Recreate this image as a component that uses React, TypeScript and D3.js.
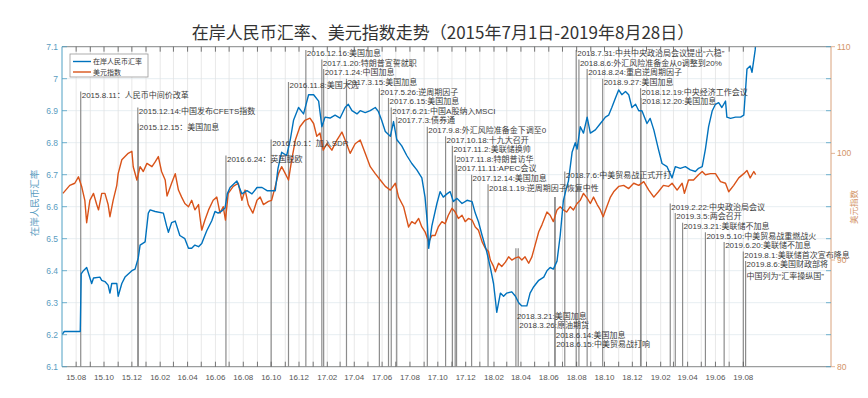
import * as d3 from "d3"

// 在岸人民币汇率 (left axis)
const cnyDates = [
  "2015-07-01", "2015-07-06", "2015-08-10", "2015-08-12", "2015-08-17", "2015-08-24", "2015-09-04", "2015-09-08",
  "2015-09-22", "2015-09-26", "2015-10-03", "2015-10-10", "2015-10-14", "2015-10-18", "2015-10-29", "2015-11-01",
  "2015-11-09", "2015-11-16", "2015-12-01", "2015-12-08", "2015-12-15", "2015-12-19", "2015-12-30", "2016-01-06",
  "2016-01-10", "2016-01-21", "2016-02-08", "2016-02-15", "2016-02-19", "2016-02-26", "2016-03-05", "2016-03-15",
  "2016-03-26", "2016-04-03", "2016-04-10", "2016-04-17", "2016-04-25", "2016-05-02", "2016-05-06", "2016-05-13",
  "2016-05-24", "2016-05-31", "2016-06-07", "2016-06-15", "2016-06-22", "2016-06-27", "2016-07-03", "2016-07-18",
  "2016-07-29", "2016-08-09", "2016-08-20", "2016-08-31", "2016-09-11", "2016-09-22", "2016-10-10", "2016-10-16",
  "2016-10-24", "2016-11-04", "2016-11-12", "2016-11-19", "2016-11-30", "2016-12-11", "2016-12-22", "2017-01-02",
  "2017-01-13", "2017-01-20", "2017-01-27", "2017-02-07", "2017-02-18", "2017-03-01", "2017-03-12", "2017-03-19",
  "2017-03-27", "2017-04-07", "2017-04-14", "2017-04-25", "2017-05-06", "2017-05-17", "2017-05-24", "2017-05-31",
  "2017-06-08", "2017-06-19", "2017-06-26", "2017-07-03", "2017-07-14", "2017-07-25", "2017-08-05", "2017-08-16",
  "2017-08-27", "2017-09-03", "2017-09-08", "2017-09-11", "2017-09-18", "2017-09-29", "2017-10-06", "2017-10-13",
  "2017-10-21", "2017-10-28", "2017-11-04", "2017-11-12", "2017-11-23", "2017-12-04", "2017-12-15", "2017-12-22",
  "2017-12-29", "2018-01-06", "2018-01-16", "2018-01-24", "2018-01-31", "2018-02-04", "2018-02-07", "2018-02-15",
  "2018-02-22", "2018-03-01", "2018-03-12", "2018-03-20", "2018-03-27", "2018-04-03", "2018-04-14", "2018-04-21",
  "2018-04-29", "2018-05-10", "2018-05-21", "2018-05-28", "2018-06-04", "2018-06-11", "2018-06-19", "2018-06-26",
  "2018-07-03", "2018-07-10", "2018-07-14", "2018-07-22", "2018-07-29", "2018-08-02", "2018-08-09", "2018-08-16",
  "2018-08-24", "2018-08-31", "2018-09-11", "2018-09-22", "2018-10-03", "2018-10-10", "2018-10-17", "2018-10-25",
  "2018-11-01", "2018-11-08", "2018-11-16", "2018-11-23", "2018-11-30", "2018-12-08", "2018-12-15", "2018-12-22",
  "2019-01-02", "2019-01-09", "2019-01-17", "2019-01-27", "2019-02-04", "2019-02-15", "2019-02-26", "2019-03-05",
  "2019-03-16", "2019-03-27", "2019-04-07", "2019-04-18", "2019-04-25", "2019-05-03", "2019-05-10", "2019-05-17",
  "2019-05-25", "2019-06-01", "2019-06-08", "2019-06-15", "2019-06-23", "2019-06-26", "2019-07-04", "2019-07-15",
  "2019-07-26", "2019-08-02", "2019-08-09", "2019-08-16", "2019-08-20", "2019-08-27", "2019-08-28",
]
const cnyRates = [
  6.2, 6.21, 6.21, 6.39, 6.4, 6.41, 6.36, 6.377,
  6.38, 6.37, 6.366, 6.355, 6.33, 6.36, 6.36, 6.32,
  6.36, 6.38, 6.4, 6.405, 6.44, 6.48, 6.49, 6.58,
  6.59, 6.585, 6.58, 6.54, 6.52, 6.55, 6.555, 6.51,
  6.5, 6.47, 6.47, 6.48, 6.475, 6.485, 6.5, 6.525,
  6.556, 6.585, 6.58, 6.587, 6.596, 6.64, 6.66, 6.68,
  6.64, 6.65, 6.64, 6.66, 6.66, 6.65, 6.65, 6.72,
  6.77, 6.76, 6.81, 6.87, 6.91, 6.89, 6.95, 6.95,
  6.93, 6.85, 6.88, 6.877, 6.886, 6.877, 6.91, 6.92,
  6.9, 6.89, 6.9, 6.894, 6.9, 6.91, 6.897, 6.87,
  6.835, 6.82, 6.866, 6.81, 6.79, 6.76, 6.735, 6.715,
  6.69, 6.63, 6.55, 6.47, 6.54, 6.61, 6.647, 6.63,
  6.64, 6.647, 6.616, 6.626, 6.61, 6.62, 6.616, 6.58,
  6.553, 6.51, 6.46, 6.41, 6.36, 6.31, 6.27, 6.33,
  6.32, 6.33, 6.334, 6.32, 6.3, 6.29, 6.29, 6.33,
  6.35, 6.37, 6.38, 6.4, 6.41, 6.405, 6.43, 6.51,
  6.62, 6.66, 6.68, 6.77, 6.8, 6.78, 6.85, 6.83,
  6.88, 6.83, 6.84, 6.86, 6.88, 6.886, 6.91, 6.94,
  6.965, 6.95, 6.96, 6.95, 6.91, 6.92, 6.9, 6.9,
  6.86, 6.876, 6.84, 6.78, 6.735, 6.725, 6.69, 6.725,
  6.72, 6.725, 6.715, 6.71, 6.72, 6.725, 6.78, 6.85,
  6.9, 6.92, 6.925, 6.91, 6.93, 6.88, 6.876, 6.88,
  6.88, 6.886, 7.03, 7.04, 7.02, 7.09, 7.11,
]

// 美元指数 (right axis)
const dxyDates = [
  "2015-07-03", "2015-07-18", "2015-07-29", "2015-08-06", "2015-08-13", "2015-08-20", "2015-08-24", "2015-08-31",
  "2015-09-08", "2015-09-15", "2015-09-19", "2015-09-26", "2015-10-03", "2015-10-10", "2015-10-14", "2015-10-21",
  "2015-10-29", "2015-11-01", "2015-11-09", "2015-11-16", "2015-11-23", "2015-12-01", "2015-12-04", "2015-12-12",
  "2015-12-19", "2015-12-26", "2016-01-03", "2016-01-14", "2016-01-21", "2016-01-28", "2016-02-04", "2016-02-12",
  "2016-02-16", "2016-02-26", "2016-03-05", "2016-03-12", "2016-03-19", "2016-03-26", "2016-04-03", "2016-04-10",
  "2016-04-17", "2016-04-25", "2016-04-28", "2016-05-02", "2016-05-09", "2016-05-17", "2016-05-27", "2016-06-04",
  "2016-06-11", "2016-06-18", "2016-06-23", "2016-06-29", "2016-07-10", "2016-07-21", "2016-07-29", "2016-08-05",
  "2016-08-12", "2016-08-22", "2016-08-31", "2016-09-07", "2016-09-14", "2016-09-25", "2016-10-02", "2016-10-10",
  "2016-10-17", "2016-10-24", "2016-11-01", "2016-11-08", "2016-11-15", "2016-11-23", "2016-12-03", "2016-12-14",
  "2016-12-25", "2017-01-02", "2017-01-09", "2017-01-16", "2017-01-23", "2017-01-31", "2017-02-11", "2017-02-22",
  "2017-03-05", "2017-03-12", "2017-03-23", "2017-04-03", "2017-04-14", "2017-04-25", "2017-05-06", "2017-05-17",
  "2017-05-28", "2017-06-08", "2017-06-19", "2017-06-30", "2017-07-07", "2017-07-18", "2017-07-29", "2017-08-05",
  "2017-08-12", "2017-08-20", "2017-08-27", "2017-09-03", "2017-09-11", "2017-09-18", "2017-09-25", "2017-10-02",
  "2017-10-10", "2017-10-17", "2017-10-24", "2017-11-01", "2017-11-08", "2017-11-15", "2017-11-23", "2017-11-30",
  "2017-12-07", "2017-12-15", "2017-12-22", "2017-12-29", "2018-01-06", "2018-01-13", "2018-01-20", "2018-01-24",
  "2018-01-31", "2018-02-04", "2018-02-11", "2018-02-18", "2018-02-26", "2018-03-05", "2018-03-12", "2018-03-20",
  "2018-03-27", "2018-04-03", "2018-04-10", "2018-04-18", "2018-04-25", "2018-05-02", "2018-05-10", "2018-05-17",
  "2018-05-28", "2018-06-04", "2018-06-11", "2018-06-19", "2018-06-26", "2018-07-03", "2018-07-10", "2018-07-18",
  "2018-07-25", "2018-08-02", "2018-08-09", "2018-08-16", "2018-08-24", "2018-08-31", "2018-09-07", "2018-09-15",
  "2018-09-22", "2018-09-28", "2018-10-06", "2018-10-14", "2018-10-21", "2018-11-01", "2018-11-12", "2018-11-23",
  "2018-12-04", "2018-12-15", "2018-12-26", "2019-01-06", "2019-01-17", "2019-01-27", "2019-02-07", "2019-02-18",
  "2019-02-26", "2019-03-09", "2019-03-20", "2019-03-25", "2019-04-03", "2019-04-14", "2019-04-25", "2019-05-03",
  "2019-05-10", "2019-05-21", "2019-06-01", "2019-06-12", "2019-06-23", "2019-06-30", "2019-07-11", "2019-07-22",
  "2019-08-02", "2019-08-09", "2019-08-16", "2019-08-24", "2019-08-28",
]
const dxyValues = [
  96.25, 97.0, 97.2, 97.8, 96.9, 95.6, 93.5, 95.6,
  96.25, 95.2, 94.7, 96.25, 96.25, 95.2, 94.06, 95.6,
  97.0, 98.1, 99.4, 99.7, 100.0, 100.2, 98.75, 97.5,
  98.75, 98.3, 99.06, 98.75, 99.2, 99.7, 98.3, 97.5,
  96.0, 97.2, 98.1, 96.56, 95.9, 95.3, 95.0, 95.6,
  94.7, 95.2, 94.06, 92.8, 93.75, 94.7, 95.6, 95.9,
  94.4, 95.0, 93.75, 96.25, 96.9, 97.2, 95.6, 96.56,
  95.2, 94.4, 95.6, 95.9, 95.2, 95.5, 95.6, 96.9,
  98.1, 98.75, 98.1, 97.5, 99.4, 101.25, 102.5, 103.1,
  103.3, 102.8, 101.6, 101.9, 100.3, 100.9, 100.3, 101.25,
  102.0, 101.25, 100.0, 100.9, 101.25, 100.0, 98.75, 98.1,
  97.5, 96.9, 96.56, 97.2, 95.9, 95.0, 93.1, 93.6,
  93.4, 93.9, 93.1, 92.65, 91.7, 92.3, 92.3, 93.1,
  93.6, 93.4, 94.2, 94.85, 94.5, 93.9, 94.2, 93.6,
  93.9, 93.75, 93.1, 92.8, 91.7, 91.1, 90.8, 90.0,
  89.4, 88.9, 89.7, 89.4, 89.8, 90.3, 90.0, 90.2,
  90.3, 90.0, 90.3, 89.7, 90.3, 91.4, 92.65, 93.3,
  94.5, 94.2, 93.6, 94.7, 95.0, 94.7, 94.5, 95.0,
  94.7, 95.3, 95.6, 96.25, 95.8, 95.3, 95.9, 95.2,
  94.7, 94.06, 95.0, 95.9, 96.4, 96.9, 97.0, 96.7,
  97.2, 97.0, 97.35, 96.56, 95.9, 96.4, 97.0, 96.9,
  97.2, 96.56, 97.2, 96.25, 97.5, 97.5, 98.0, 98.3,
  98.0, 98.1, 98.1, 97.35, 97.2, 96.4, 97.0, 97.7,
  98.1, 98.4, 97.7, 98.3, 98.0,
]

// events: date, label, label height and line height (in 人民币汇率 units)
const eventDates = [
  "2015-08-11", "2015-12-14", "2015-12-15", "2016-06-24", "2016-10-01", "2016-11-08", "2016-12-16", "2017-01-20",
  "2017-01-24", "2017-03-15", "2017-05-26", "2017-06-15", "2017-06-21", "2017-07-03", "2017-09-08", "2017-10-18",
  "2017-11-02", "2017-11-08", "2017-11-11", "2017-12-14", "2018-01-19", "2018-03-21", "2018-03-26", "2018-06-14",
  "2018-06-15", "2018-07-06", "2018-07-31", "2018-08-06", "2018-08-24", "2018-09-27", "2018-12-19", "2018-12-20",
  "2019-02-22", "2019-03-05", "2019-03-21", "2019-05-10", "2019-06-20", "2019-08-01", "2019-08-06",
]
const eventTexts = [
  "2015.8.11：人民币中间价改革", "2015.12.14:中国发布CFETS指数", "2015.12.15：美国加息", "2016.6.24：英国脱欧",
  "2016.10.1：加入SDR", "2016.11.8:美国大选", "2016.12.16:美国加息", "2017.1.20:特朗普宣誓就职",
  "2017.1.24:中国加息", "2017.3.15:美国加息", "2017.5.26:逆周期因子", "2017.6.15:美国加息",
  "2017.6.21:中国A股纳入MSCI", "2017.7.3:债券通", "2017.9.8:外汇风险准备金下调至0", "2017.10.18:十九大召开",
  "2017.11.2:美联储换帅", "2017.11.8:特朗普访华", "2017.11.11:APEC会议", "2017.12.14:美国加息",
  "2018.1.19:逆周期因子恢复中性", "2018.3.21:美国加息", "2018.3.26:原油期货", "2018.6.14:美国加息",
  "2018.6.15:中美贸易战打响", "2018.7.6:中美贸易战正式开打", "2018.7.31:中共中央政治局会议提出“六稳”",
  "2018.8.6:外汇风险准备金从0调整到20%", "2018.8.24:重启逆周期因子", "2018.9.27:美国加息",
  "2018.12.19:中央经济工作会议", "2018.12.20:美国加息", "2019.2.22:中央政治局会议", "2019.3.5:两会召开",
  "2019.3.21:美联储不加息", "2019.5.10:中美贸易战重燃战火", "2019.6.20:美联储不加息",
  "2019.8.1:美联储首次宣布降息", "2019.8.6:美国财政部将\n中国列为“汇率操纵国”",
]
const eventLevels = [
  6.95, 6.9, 6.85, 6.75, 6.8, 6.98, 7.08, 7.05,
  7.02, 6.99, 6.96, 6.93, 6.9, 6.87, 6.84, 6.81,
  6.78, 6.75, 6.72, 6.69, 6.66, 6.26, 6.23, 6.2,
  6.17, 6.7, 7.08, 7.05, 7.02, 6.99, 6.96, 6.93,
  6.6, 6.57, 6.54, 6.51, 6.48, 6.45, 6.42,
]
const eventLineTops = [
  6.96, 6.91, 6.86, 6.76, 6.81, 6.99, 7.09, 7.06,
  7.03, 7.0, 6.97, 6.94, 6.91, 6.88, 6.85, 6.82,
  6.79, 6.76, 6.73, 6.7, 6.67, 6.47, 6.47, 6.63,
  6.63, 6.71, 7.09, 7.06, 7.03, 7.0, 6.97, 6.94,
  6.61, 6.58, 6.55, 6.52, 6.49, 6.46, 6.43,
]

const leftTicks = [6.1, 6.2, 6.3, 6.4, 6.5, 6.6, 6.7, 6.8, 6.9, 7, 7.1]
const rightTicks = [80, 90, 100, 110]

const W = 868
const H = 398
const left = 62
const right = 831
const top = 46.7
const bottom = 366.7
const blue = "#0072BD"
const orange = "#D95319"
const font = "'Liberation Sans', 'Noto Sans CJK SC', sans-serif"

export default function App() {
  const parse = d3.timeParse("%Y-%m-%d")
  const x = d3.scaleTime().domain([parse("2015-07-01")!, parse("2020-02-09")!]).range([left, right])
  const yL = d3.scaleLinear().domain([6.1, 7.1]).range([bottom, top])
  const yR = d3.scaleLinear().domain([80, 110]).range([bottom, top])

  const cny = cnyDates.map((d, i) => ({ date: parse(d)!, v: cnyRates[i] }))
  const dxy = dxyDates.map((d, i) => ({ date: parse(d)!, v: dxyValues[i] }))

  const cnyLine = d3.line<{ date: Date; v: number }>().x((d) => x(d.date)).y((d) => yL(d.v))
  const dxyLine = d3.line<{ date: Date; v: number }>().x((d) => x(d.date)).y((d) => yR(d.v))

  const months = d3.timeMonth.range(parse("2015-08-01")!, parse("2019-08-02")!)
  const fmt = d3.timeFormat("%y.%m")

  return (
    <div style={{ position: "fixed", left: 0, top: 0, background: "#fff" }}>
      <svg width={W} height={H} style={{ display: "block", fontFamily: font }}>
        <rect width={W} height={H} fill="#fff" />
        <defs>
          <clipPath id="plot">
            <rect x={left} y={top} width={right - left} height={bottom - top} />
          </clipPath>
        </defs>

        <text x={443} y={39} textAnchor="middle" fontSize={17} fill="#333"
          fontFamily="'Noto Sans CJK SC', sans-serif">
          在岸人民币汇率、美元指数走势（2015年7月1日-2019年8月28日）
        </text>

        {/* grid */}
        {leftTicks.map((t, i) => (
          <line key={"hg" + i} x1={left} x2={right} y1={yL(t)} y2={yL(t)} stroke="#dfe8ee" strokeWidth={0.8} />
        ))}
        {months.map((m, i) => (
          <line key={"vg" + i} x1={x(m)} x2={x(m)} y1={top} y2={bottom} stroke="#e2e2e2" strokeWidth={0.8} />
        ))}

        {/* event lines */}
        {eventDates.map((d, i) => (
          <line key={"ev" + i} x1={x(parse(d)!)} x2={x(parse(d)!)} y1={bottom}
            y2={yL(eventLineTops[i])} stroke="#8c8c8c" strokeWidth={1.2} />
        ))}

        {/* series */}
        <g clipPath="url(#plot)">
          <path d={dxyLine(dxy)!} fill="none" stroke={orange} strokeWidth={1.4} strokeLinejoin="round" />
          <path d={cnyLine(cny)!} fill="none" stroke={blue} strokeWidth={1.4} strokeLinejoin="round" />
        </g>

        {/* event labels */}
        {eventDates.map((d, i) => (
          <text key={"et" + i} x={x(parse(d)!) + 1} y={yL(eventLevels[i]) + 3} fontSize={8} fill="#3c3c3c">
            {eventTexts[i].split("\n").map((s, j) => (
              <tspan key={j} x={x(parse(d)!) + 1} dy={j === 0 ? 0 : 11.5}>{s}</tspan>
            ))}
          </text>
        ))}

        {/* axes box */}
        <line x1={left} x2={right} y1={top} y2={top} stroke="#8a8a8a" strokeWidth={1} />
        <line x1={left} x2={right} y1={bottom} y2={bottom} stroke="#8a8a8a" strokeWidth={1} />
        <line x1={left} x2={left} y1={top} y2={bottom} stroke="#4fa0c4" strokeWidth={1} />
        <line x1={right} x2={right} y1={top} y2={bottom} stroke="#d9a27c" strokeWidth={1} />

        {months.map((m, i) => (
          <g key={"xt" + i}>
            <line x1={x(m)} x2={x(m)} y1={bottom} y2={bottom - 5} stroke="#555" strokeWidth={0.8} />
            <line x1={x(m)} x2={x(m)} y1={top} y2={top + 5} stroke="#555" strokeWidth={0.8} />
          </g>
        ))}
        {months.filter((m) => m.getMonth() % 2 === 1).map((m, i) => (
          <text key={"xl" + i} x={x(m)} y={380} textAnchor="middle" fontSize={8} fill="#555">{fmt(m)}</text>
        ))}

        {leftTicks.map((t, i) => (
          <g key={"yl" + i}>
            <line x1={left} x2={left + 5} y1={yL(t)} y2={yL(t)} stroke="#4fa0c4" strokeWidth={0.8} />
            <line x1={right} x2={right - 5} y1={yL(t)} y2={yL(t)} stroke="#4fa0c4" strokeWidth={0.8} />
            <text x={left - 4} y={yL(t) + 3} textAnchor="end" fontSize={8.5} fill="#5a9cc0">{t}</text>
          </g>
        ))}
        {rightTicks.map((t, i) => (
          <g key={"yr" + i}>
            <line x1={right} x2={right + 4} y1={yR(t)} y2={yR(t)} stroke="#d9a27c" strokeWidth={0.8} />
            <text x={right + 6} y={yR(t) + 3} fontSize={8.5} fill="#d39468">{t}</text>
          </g>
        ))}

        <text transform={`translate(38,203) rotate(-90)`} textAnchor="middle" fontSize={9.5} fill="#5a9cc0">
          在岸人民币汇率
        </text>
        <text transform={`translate(857,207) rotate(-90)`} textAnchor="middle" fontSize={8.5} fill="#d39468">
          美元指数
        </text>

        {/* legend */}
        <rect x={70} y={54} width={78} height={23} fill="#fff" stroke="#9a9a9a" strokeWidth={0.8} />
        <line x1={73} x2={91} y1={61.5} y2={61.5} stroke={blue} strokeWidth={1.4} />
        <text x={93} y={64} fontSize={7} fill="#333">在岸人民币汇率</text>
        <line x1={73} x2={91} y1={72} y2={72} stroke={orange} strokeWidth={1.4} />
        <text x={93} y={74.5} fontSize={7} fill="#333">美元指数</text>
      </svg>
    </div>
  )
}
